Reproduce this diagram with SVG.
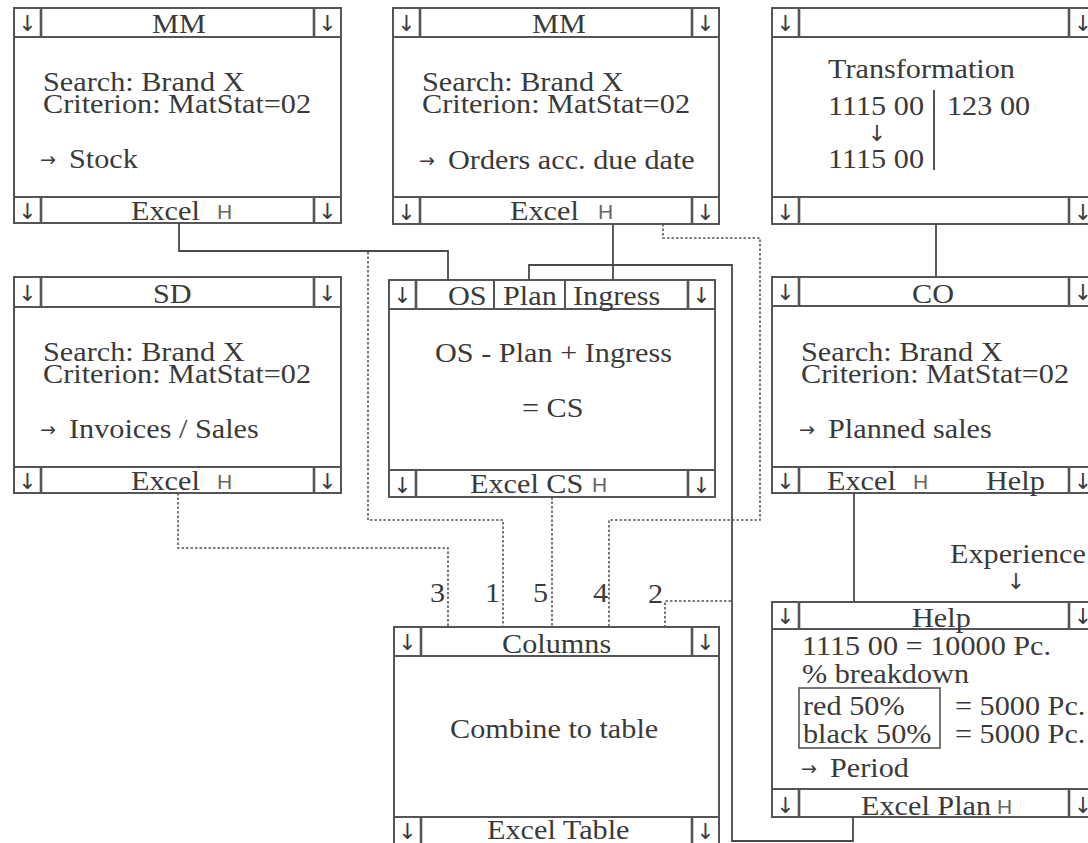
<svg xmlns="http://www.w3.org/2000/svg" width="1088" height="843" viewBox="0 0 1088 843">
<style>
.t{font-family:"Liberation Serif","Times New Roman",serif;font-size:27px;fill:#3a3a3a}
.ar{font-family:"DejaVu Sans",sans-serif;font-size:22px;fill:#3a3a3a;text-anchor:middle}
.ra{font-family:"DejaVu Sans",sans-serif;font-size:19px;fill:#3a3a3a}
.h{font-family:"Liberation Sans",Arial,sans-serif;font-size:21px;fill:#666}
.box{fill:#fff;stroke:#555;stroke-width:2}
.ln{stroke:#555;stroke-width:2;fill:none}
.cl{stroke:#555;stroke-width:2.6;fill:none}
.c{fill:none;stroke:#4a4a4a;stroke-width:1.8}
.d{fill:none;stroke:#555;stroke-width:1.6;stroke-dasharray:2.5 2}
</style>
<rect width="1088" height="843" fill="#fff"/>

<g id="mm-stock">
<rect class="box" x="14" y="8" width="327" height="215"/>
<path class="ln" d="M14 37H341M14 197H341"/>
<path class="cl" d="M41 8V37M314 8V37M41 197V223M314 197V223"/>
<text class="ar" x="27.5" y="31">↓</text><text class="ar" x="327.5" y="31">↓</text>
<text class="ar" x="27.5" y="219">↓</text><text class="ar" x="327.5" y="219">↓</text>
<text class="t" transform="translate(152 33) scale(1.12 1)">MM</text>
<text class="t" transform="translate(43 91) scale(1.12 1)">Search: Brand X</text>
<text class="t" transform="translate(43 113) scale(1.12 1)">Criterion: MatStat=02</text>
<text class="ra" x="40" y="166">→</text>
<text class="t" transform="translate(69 168) scale(1.12 1)">Stock</text>
<text class="t" transform="translate(131 220) scale(1.12 1)">Excel</text>
<text class="h" x="217" y="219">H</text>
</g>

<g id="mm-orders">
<rect class="box" x="393" y="8" width="326" height="216"/>
<path class="ln" d="M393 37H719M393 197H719"/>
<path class="cl" d="M420 8V37M692 8V37M420 197V224M692 197V224"/>
<text class="ar" x="406.5" y="31">↓</text><text class="ar" x="705.5" y="31">↓</text>
<text class="ar" x="406.5" y="220">↓</text><text class="ar" x="705.5" y="220">↓</text>
<text class="t" transform="translate(532 33) scale(1.12 1)">MM</text>
<text class="t" transform="translate(422 91) scale(1.12 1)">Search: Brand X</text>
<text class="t" transform="translate(422 113) scale(1.12 1)">Criterion: MatStat=02</text>
<text class="ra" x="419" y="167">→</text>
<text class="t" transform="translate(448 169) scale(1.12 1)">Orders acc. due date</text>
<text class="t" transform="translate(510 220) scale(1.12 1)">Excel</text>
<text class="h" x="598" y="219">H</text>
</g>

<g id="transformation">
<rect class="box" x="772" y="8" width="325" height="216"/>
<path class="ln" d="M772 37H1097M772 197H1097"/>
<path class="cl" d="M799 8V37M1069 8V37M799 197V224M1069 197V224"/>
<text class="ar" x="785.5" y="31">↓</text><text class="ar" x="1083" y="31">↓</text>
<text class="ar" x="785.5" y="220">↓</text><text class="ar" x="1083" y="220">↓</text>
<text class="t" transform="translate(828 78) scale(1.12 1)">Transformation</text>
<text class="t" transform="translate(828 115) scale(1.12 1)">1115 00</text>
<text class="t" transform="translate(947 115) scale(1.12 1)">123 00</text>
<text class="ar" x="877" y="141">↓</text>
<text class="t" transform="translate(828 168) scale(1.12 1)">1115 00</text>
<path class="ln" d="M934 90V170"/>
</g>

<g id="sd-sales">
<rect class="box" x="14" y="277" width="327" height="216"/>
<path class="ln" d="M14 307H341M14 467H341"/>
<path class="cl" d="M41 277V307M314 277V307M41 467V493M314 467V493"/>
<text class="ar" x="27.5" y="301">↓</text><text class="ar" x="327.5" y="301">↓</text>
<text class="ar" x="27.5" y="489">↓</text><text class="ar" x="327.5" y="489">↓</text>
<text class="t" transform="translate(153 303) scale(1.12 1)">SD</text>
<text class="t" transform="translate(43 361) scale(1.12 1)">Search: Brand X</text>
<text class="t" transform="translate(43 383) scale(1.12 1)">Criterion: MatStat=02</text>
<text class="ra" x="40" y="436">→</text>
<text class="t" transform="translate(69 438) scale(1.12 1)">Invoices / Sales</text>
<text class="t" transform="translate(131 490) scale(1.12 1)">Excel</text>
<text class="h" x="217" y="489">H</text>
</g>

<g id="cs-calc">
<rect class="box" x="389" y="280" width="326" height="217"/>
<path class="ln" d="M389 309H715M389 470H715"/>
<path class="cl" d="M416 280V309M688 280V309M416 470V497M688 470V497"/>
<path class="ln" d="M494 280V309M565 280V309"/>
<text class="ar" x="402.5" y="303">↓</text><text class="ar" x="701.5" y="303">↓</text>
<text class="ar" x="402.5" y="493">↓</text><text class="ar" x="701.5" y="493">↓</text>
<text class="t" transform="translate(448 305) scale(1.12 1)">OS</text>
<text class="t" transform="translate(503 305) scale(1.12 1)">Plan</text>
<text class="t" transform="translate(573 305) scale(1.12 1)">Ingress</text>
<text class="t" transform="translate(435 362) scale(1.12 1)">OS - Plan + Ingress</text>
<text class="t" transform="translate(522 417) scale(1.12 1)">= CS</text>
<text class="t" transform="translate(470 493) scale(1.12 1)">Excel CS</text>
<text class="h" x="592" y="492">H</text>
</g>

<g id="co-planned">
<rect class="box" x="772" y="277" width="325" height="216"/>
<path class="ln" d="M772 306H1097M772 467H1097"/>
<path class="cl" d="M799 277V306M1069 277V306M799 467V493M1069 467V493"/>
<text class="ar" x="785.5" y="300">↓</text><text class="ar" x="1083" y="300">↓</text>
<text class="ar" x="785.5" y="489">↓</text><text class="ar" x="1083" y="489">↓</text>
<text class="t" transform="translate(912 303) scale(1.12 1)">CO</text>
<text class="t" transform="translate(801 361) scale(1.12 1)">Search: Brand X</text>
<text class="t" transform="translate(801 383) scale(1.12 1)">Criterion: MatStat=02</text>
<text class="ra" x="799" y="436">→</text>
<text class="t" transform="translate(828 438) scale(1.12 1)">Planned sales</text>
<text class="t" transform="translate(827 490) scale(1.12 1)">Excel</text>
<text class="h" x="913" y="489">H</text>
<text class="t" transform="translate(986 490) scale(1.12 1)">Help</text>
</g>

<g id="experience">
<text class="t" transform="translate(950 563) scale(1.12 1)">Experience</text>
<text class="ar" x="1016" y="589">↓</text>
</g>

<g id="help">
<rect class="box" x="772" y="602" width="325" height="215"/>
<path class="ln" d="M772 629H1097M772 789H1097"/>
<path class="cl" d="M799 602V629M1069 602V629M799 789V817M1069 789V817"/>
<text class="ar" x="785.5" y="624">↓</text><text class="ar" x="1083" y="624">↓</text>
<text class="ar" x="785.5" y="813">↓</text><text class="ar" x="1083" y="813">↓</text>
<text class="t" transform="translate(912 627) scale(1.12 1)">Help</text>
<text class="t" transform="translate(802 655) scale(1.12 1)">1115 00 = 10000 Pc.</text>
<text class="t" transform="translate(802 683) scale(1.12 1)">% breakdown</text>
<rect x="799" y="688" width="141" height="60" fill="none" stroke="#555" stroke-width="1.6"/>
<text class="t" transform="translate(803 715) scale(1.12 1)">red 50%</text>
<text class="t" transform="translate(803 743) scale(1.12 1)">black 50%</text>
<text class="t" transform="translate(955 715) scale(1.12 1)">= 5000 Pc.</text>
<text class="t" transform="translate(955 743) scale(1.12 1)">= 5000 Pc.</text>
<text class="ra" x="801" y="775">→</text>
<text class="t" transform="translate(830 777) scale(1.12 1)">Period</text>
<text class="t" transform="translate(861 815) scale(1.12 1)">Excel Plan</text>
<text class="h" x="997" y="814">H</text>
</g>

<g id="columns">
<rect class="box" x="394" y="627" width="325" height="222"/>
<path class="ln" d="M394 656H719M394 817H719"/>
<path class="cl" d="M421 627V656M692 627V656M421 817V849M692 817V849"/>
<text class="ar" x="407.5" y="650">↓</text><text class="ar" x="705.5" y="650">↓</text>
<text class="ar" x="407.5" y="839">↓</text><text class="ar" x="705.5" y="839">↓</text>
<text class="t" transform="translate(502 653) scale(1.12 1)">Columns</text>
<text class="t" transform="translate(450 738) scale(1.12 1)">Combine to table</text>
<text class="t" transform="translate(487 839) scale(1.12 1)">Excel Table</text>
</g>

<g id="connectors">
<path class="c" d="M179 223V251H448V280"/>
<path class="c" d="M613 224V280"/>
<path class="c" d="M853 817V841H732V265H529V280"/>
<path class="c" d="M854 493V602"/>
<path class="c" d="M936 224V277"/>
<path class="d" d="M178 493V548H448V627"/>
<path class="d" d="M368 252V520H503V627"/>
<path class="d" d="M552 497V627"/>
<path class="d" d="M663 224V238H760V520H609V627"/>
<path class="d" d="M731 601H665V627"/>
<text class="t" transform="translate(430 602) scale(1.12 1)">3</text>
<text class="t" transform="translate(485 602) scale(1.12 1)">1</text>
<text class="t" transform="translate(533 602) scale(1.12 1)">5</text>
<text class="t" transform="translate(593 602) scale(1.12 1)">4</text>
<text class="t" transform="translate(648 603) scale(1.12 1)">2</text>
</g>
</svg>
